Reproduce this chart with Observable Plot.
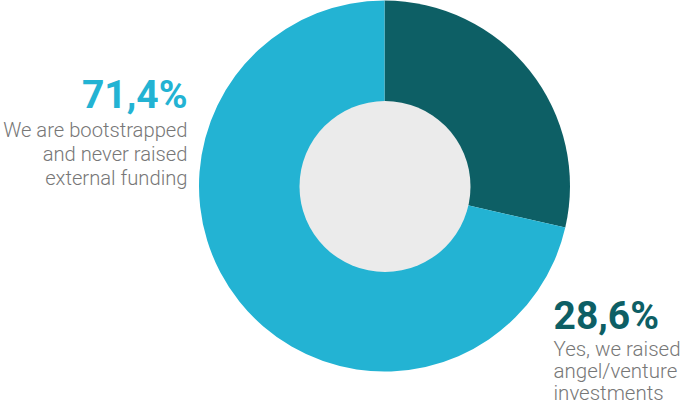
<!DOCTYPE html>
<html>
<head>
<meta charset="utf-8">
<script src="https://cdn.jsdelivr.net/npm/d3@7"></script>
<script src="https://cdn.jsdelivr.net/npm/@observablehq/plot@0.6"></script>
<style>
  html, body { margin: 0; padding: 0; background: #fff; }
  svg { display: block; }
</style>
</head>
<body>
<div id="chart"></div>
<script>
const categories = ["Yes, we raised\nangel/venture\ninvestments", "We are bootstrapped\nand never raised\nexternal funding"];
const values = [28.6, 71.4];
const valueLabels = ["28,6%", "71,4%"];
const colors = ["#0d5f65", "#23b3d3"];

const slices = categories.map((c, i) => ({category: c, value: values[i], label: valueLabels[i], color: colors[i]}));

const W = 680, H = 411;
const cx = 384.5, cy = 186, R = 185.5, r0 = 85.5;

function donut(index, scales, vals, dimensions, context) {
  const pie = d3.pie().sort(null).value(d => d.value)(slices);
  const arc = d3.arc().innerRadius(0).outerRadius(R);
  const g = d3.create("svg:g").attr("transform", `translate(${scales.x(cx)},${scales.y(cy)})`);
  g.selectAll("path").data(pie).join("path")
    .attr("d", arc)
    .attr("fill", d => d.data.color);
  return g.node();
}

const chart = Plot.plot({
  width: W,
  height: H,
  margin: 0,
  x: {type: "linear", domain: [0, W], range: [0, W], axis: null},
  y: {type: "linear", domain: [0, H], range: [0, H], axis: null},
  style: {fontFamily: "Roboto, sans-serif", background: "#fff"},
  marks: [
    donut,
    Plot.dot([0], {x: () => cx, y: () => cy, r: r0, fill: "#ebebeb", stroke: null}),
    // left labels (bootstrapped)
    Plot.text([slices[1]], {x: () => 187, y: () => 80, text: "label", fill: d => d.color,
      textAnchor: "end", lineAnchor: "top", fontSize: 39, fontWeight: 700}),
    Plot.text([slices[1]], {x: () => 187, y: () => 119, text: "category", fill: "#777777",
      textAnchor: "end", lineAnchor: "top", fontSize: 20.2, fontWeight: 300, lineHeight: 1.2}),
    // right labels (raised)
    Plot.text([slices[0]], {x: () => 553, y: () => 301, text: "label", fill: d => d.color,
      textAnchor: "start", lineAnchor: "top", fontSize: 39, fontWeight: 700}),
    Plot.text([slices[0]], {x: () => 553, y: () => 340, text: "category", fill: "#777777",
      textAnchor: "start", lineAnchor: "top", fontSize: 20.5, fontWeight: 300, lineHeight: 1.08})
  ]
});
document.getElementById("chart").appendChild(chart);
</script>
</body>
</html>
